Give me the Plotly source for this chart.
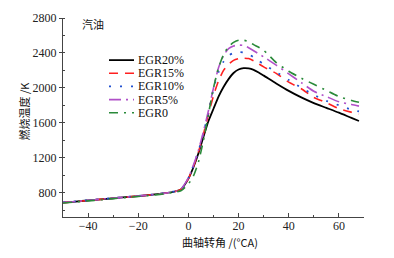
import plotly.graph_objects as go

angles = [-50, -45, -40, -35, -30, -25, -20, -15, -10, -5, -3, 0, 2, 4, 6, 8, 10, 12, 14, 16, 18, 20, 22, 24, 26, 28, 30, 35, 40, 45, 50, 55, 60, 65, 68]

egr20 = [685, 697, 710, 722, 735, 747, 760, 773, 790, 815, 835, 960, 1090, 1250, 1440, 1620, 1760, 1900, 2010, 2100, 2170, 2210, 2225, 2222, 2205, 2175, 2140, 2050, 1965, 1890, 1825, 1770, 1715, 1655, 1620]
egr15 = [685, 697, 710, 722, 735, 747, 760, 773, 790, 815, 835, 960, 1100, 1265, 1470, 1700, 1910, 2080, 2200, 2270, 2315, 2335, 2340, 2335, 2310, 2275, 2240, 2165, 2065, 1990, 1890, 1830, 1760, 1720, 1700]
egr10 = [688, 700, 712, 724, 737, 749, 762, 775, 792, 817, 837, 965, 1110, 1275, 1480, 1720, 1990, 2180, 2300, 2370, 2400, 2410, 2405, 2385, 2350, 2310, 2270, 2180, 2090, 2000, 1920, 1850, 1800, 1750, 1730]
egr5 = [686, 698, 711, 723, 736, 748, 761, 774, 791, 816, 836, 970, 1115, 1285, 1500, 1740, 2000, 2230, 2370, 2450, 2480, 2490, 2485, 2460, 2425, 2390, 2355, 2260, 2160, 2060, 1960, 1900, 1840, 1810, 1790]
egr0 = [680, 692, 705, 717, 730, 742, 755, 768, 785, 808, 820, 900, 990, 1150, 1400, 1700, 2000, 2230, 2380, 2470, 2520, 2545, 2545, 2530, 2495, 2465, 2430, 2290, 2190, 2110, 2040, 1970, 1900, 1855, 1835]

series_names = ["EGR20%", "EGR15%", "EGR10%", "EGR5%", "EGR0"]
series_values = [egr20, egr15, egr10, egr5, egr0]
colors = ["#000000", "#ff2020", "#2050d0", "#b050c8", "#2a8a3a"]
dashes = ["solid", "9px,7px", "2px,9px", "12px,5px,2px,5px", "9px,6px,2px,6px"]
widths = [1.8, 1.6, 1.8, 1.6, 1.6]

y_ticks = [800, 1200, 1600, 2000, 2400, 2800]
x_ticks = [-40, -20, 0, 20, 40, 60]

FONT = "'Liberation Serif', 'Times New Roman', 'Noto Sans CJK SC', serif"
CJK = "'Noto Sans CJK SC', 'Liberation Serif', serif"

fig = go.Figure()
for name, vals, c, d, w in zip(series_names, series_values, colors, dashes, widths):
    fig.add_trace(go.Scatter(x=angles, y=vals, mode="lines", name=name,
                             line=dict(color=c, dash=d, width=w, shape="spline", smoothing=0.6),
                             showlegend=False))

# manual legend (compact spacing)
leg_y0 = 55
leg_dy = 13.6
plot_top, plot_bottom, plot_left, plot_right = 11.5, 217.0, 63.0, 364.0
ph = plot_bottom - plot_top
pw = plot_right - plot_left
def px_to_paper_x(px):
    return (px - plot_left) / pw
def px_to_paper_y(py):
    return (plot_bottom - py) / ph

for i, (name, c, d, w) in enumerate(zip(series_names, colors, dashes, widths)):
    yy = px_to_paper_y(leg_y0 + i * leg_dy)
    fig.add_shape(type="line", xref="paper", yref="paper",
                  x0=px_to_paper_x(109), x1=px_to_paper_x(134), y0=yy, y1=yy,
                  line=dict(color=c, dash=d, width=w))
    fig.add_annotation(xref="paper", yref="paper", x=px_to_paper_x(136), y=yy,
                       text=name, showarrow=False, xanchor="left", yanchor="middle",
                       font=dict(family=FONT, size=12, color="#111"))

fig.add_annotation(xref="paper", yref="paper", x=px_to_paper_x(80), y=px_to_paper_y(18),
                   text="汽油", showarrow=False, xanchor="left", yanchor="middle",
                   font=dict(family=CJK, size=11, color="#111"))
fig.add_annotation(xref="paper", yref="paper", x=px_to_paper_x(24), y=px_to_paper_y(108),
                   text="燃烧温度 /K", showarrow=False, textangle=-90,
                   xanchor="center", yanchor="middle",
                   font=dict(family=CJK, size=11, color="#111"))
fig.add_annotation(xref="paper", yref="paper", x=px_to_paper_x(220), y=px_to_paper_y(243),
                   text="曲轴转角 /(°CA)", showarrow=False,
                   xanchor="center", yanchor="middle",
                   font=dict(family=CJK, size=11, color="#111"))

fig.update_layout(
    width=394, height=258,
    margin=dict(l=63, r=30, t=11.5, b=41),
    plot_bgcolor="white", paper_bgcolor="white",
    font=dict(family=FONT, size=12, color="#222"),
    showlegend=False,
)
fig.update_xaxes(range=[-50, 70], tickvals=x_ticks, ticks="inside", ticklen=4,
                 tickcolor="#444", showline=True, linecolor="#444", linewidth=1,
                 showgrid=False, zeroline=False, ticklabelstandoff=-2,
                 minor=dict(dtick=10, tick0=0, ticks="inside", ticklen=2, tickcolor="#444"))
fig.update_yaxes(range=[520, 2800], tickvals=y_ticks, ticks="outside", ticklen=3,
                 tickcolor="#444", showline=True, linecolor="#444", linewidth=1,
                 showgrid=False, zeroline=False,
                 minor=dict(dtick=200, tick0=0, ticks="inside", ticklen=2, tickcolor="#444"))

fig.write_html("out.html", config={"displayModeBar": False},
               post_script="document.body.style.margin='0';document.body.style.overflow='hidden';")
